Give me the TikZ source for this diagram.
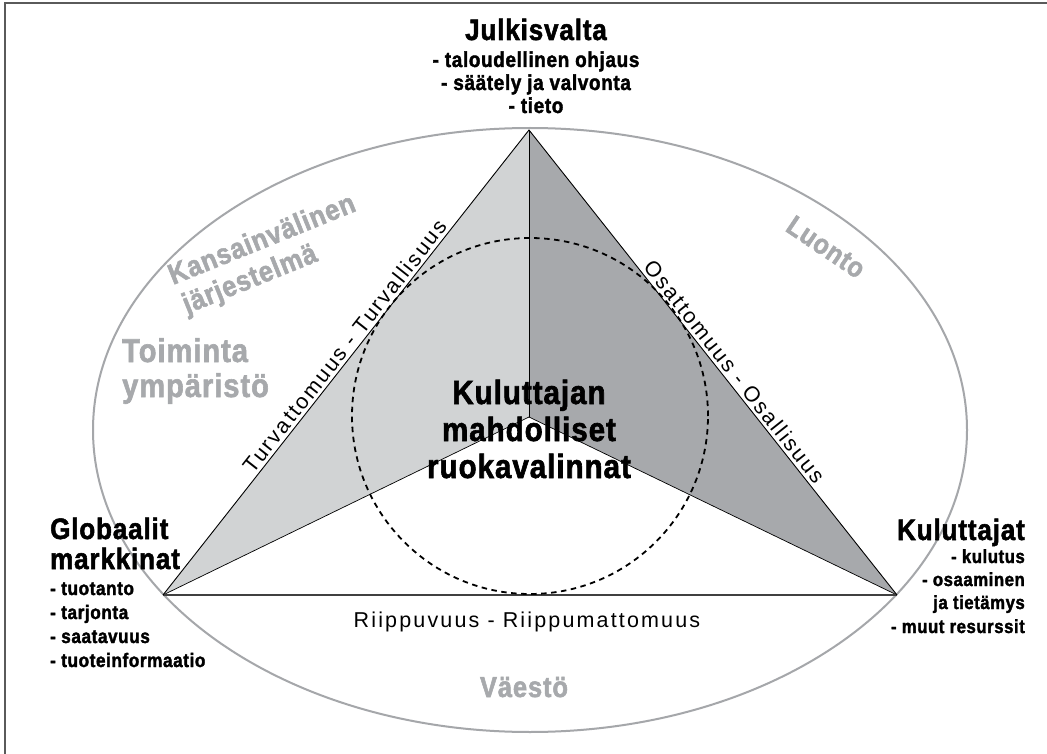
\documentclass[tikz,border=0pt]{standalone}
\usepackage{fontspec}
\setmainfont{Liberation Sans}
\newfontfamily\condbold[FakeStretch=0.88,LetterSpace=3,FakeBold=1.8]{Liberation Sans}
\newfontfamily\plainlab[LetterSpace=10]{Liberation Sans}
\definecolor{lightfill}{HTML}{D1D3D4}
\definecolor{darkfill}{HTML}{A7A9AC}
\definecolor{graytext}{HTML}{A7A9AC}
\definecolor{ellcol}{HTML}{A5A7AA}
\definecolor{framecol}{HTML}{5A5A5A}
\tikzset{
  headb/.style={font=\condbold\bfseries\fontsize{29.5}{33}\selectfont, inner sep=0pt},
  subtop/.style={font=\condbold\bfseries\fontsize{21.5}{23}\selectfont, inner sep=0pt},
  subleft/.style={font=\condbold\bfseries\fontsize{19.5}{23}\selectfont, inner sep=0pt},
  subright/.style={font=\condbold\bfseries\fontsize{19}{23}\selectfont, inner sep=0pt},
  centerb/.style={font=\condbold\bfseries\fontsize{33.5}{37}\selectfont, inner sep=0pt},
  grayb/.style={font=\condbold\bfseries\fontsize{29}{32}\selectfont, text=graytext, inner sep=0pt},
  grayB/.style={font=\condbold\bfseries\fontsize{33}{35}\selectfont, text=graytext, inner sep=0pt},
  axislab/.style={font=\plainlab\fontsize{21.5}{25}\selectfont, inner sep=3pt},
  edgeline/.style={draw=black, line width=0.9pt},
  bottomline/.style={draw=black!75, line width=1.6pt},
  innerline/.style={draw=black, line width=0.7pt},
  ellline/.style={draw=ellcol, line width=2pt},
  dashcirc/.style={draw=black, line width=1.8pt, dash pattern=on 5.5pt off 4.5pt},
  frameline/.style={draw=framecol, line width=1.5pt}
}
\begin{document}
\begin{tikzpicture}[x=1pt,y=-1pt]
\useasboundingbox (0,0) rectangle (1047,754);
\fill[white] (0,0) rectangle (1047,754);
% frame
\draw[frameline] (1047,3) -- (5,3) -- (5,754);
% outer ellipse
\draw[ellline] (530,430) ellipse [x radius=437pt, y radius=302pt];
% triangle points
\coordinate (T) at (529,130);
\coordinate (L) at (163,595);
\coordinate (R) at (897,595);
\coordinate (C) at (529,417);
% fills
\fill[lightfill] (T) -- (C) -- (L) -- cycle;
\fill[darkfill] (T) -- (C) -- (R) -- cycle;
% lines
\draw[innerline] (T) -- (C);
\draw[innerline] (C) -- (L);
\draw[innerline] (C) -- (R);
\draw[bottomline] (L) -- (R);
\draw[edgeline] (L) -- (T) -- (R);
% dashed circle
\draw[dashcirc] (530,416) circle [radius=178pt];
% edge labels
\path (L) -- (T) node[axislab, sloped, above, pos=0.52] (turva) {Turvattomuus - Turvallisuus};
\path (T) -- (R) node[axislab, sloped, above, pos=0.535] (osa) {Osattomuus - Osallisuus};
\node[axislab, anchor=base, inner sep=0pt] (riip) at (527,627) {Riippuvuus - Riippumattomuus};
% top block
\node[headb, anchor=base] (jv) at (536,40) {Julkisvalta};
\node[subtop, anchor=base] (jv1) at (536,67) {- taloudellinen ohjaus};
\node[subtop, anchor=base] (jv2) at (536,90) {- säätely ja valvonta};
\node[subtop, anchor=base] (jv3) at (536,113) {- tieto};
% left block
\node[headb, anchor=base west] (gm) at (50,539) {Globaalit};
\node[headb, anchor=base west] (gm0) at (50,569) {markkinat};
\node[subleft, anchor=base west] (gm1) at (50,595) {- tuotanto};
\node[subleft, anchor=base west] (gm2) at (50,619) {- tarjonta};
\node[subleft, anchor=base west] (gm3) at (50,643) {- saatavuus};
\node[subleft, anchor=base west] (gm4) at (50,667) {- tuoteinformaatio};
% right block
\node[headb, anchor=base east] (ku) at (1025,540) {Kuluttajat};
\node[subright, anchor=base east] (ku1) at (1025,563) {- kulutus};
\node[subright, anchor=base east] (ku2) at (1025,586) {- osaaminen};
\node[subright, anchor=base east] (ku3) at (1025,609) {ja tietämys};
\node[subright, anchor=base east] (ku4) at (1025,633) {- muut resurssit};
% center
\node[centerb, anchor=base] (c1) at (529,404) {Kuluttajan};
\node[centerb, anchor=base] (c2) at (529,441) {mahdolliset};
\node[centerb, anchor=base] (c3) at (529,478) {ruokavalinnat};
% gray labels
\node[grayb, anchor=base west, rotate=22] (ka1) at (173,285) {Kansainvälinen};
\node[grayb, anchor=base west, rotate=22] (ka2) at (187,314) {järjestelmä};
\node[grayB, anchor=base west] (to1) at (122,362) {Toiminta};
\node[grayB, anchor=base west] (to2) at (122,397) {ympäristö};
\node[grayb, rotate=-34, font=\condbold\bfseries\fontsize{28}{30}\selectfont] (lu) at (826,247) {Luonto};
\node[grayb, anchor=base] (va) at (524,697) {Väestö};
\end{tikzpicture}
\end{document}
